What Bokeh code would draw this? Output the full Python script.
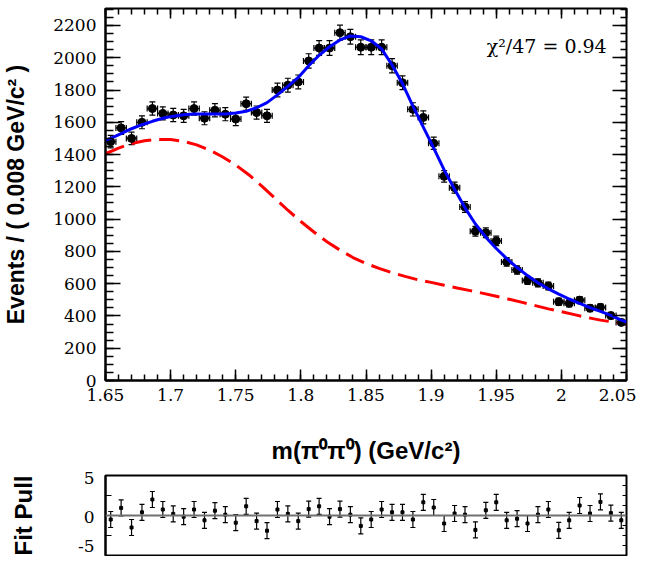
import numpy as np
from bokeh.plotting import figure
from bokeh.layouts import column
from bokeh.models import (ColumnDataSource, Whisker, TeeHead, LinearAxis, FixedTicker,
                          SingleIntervalTicker, CustomJSTickFormatter, Label, Span, Range1d)
from bokeh.embed import file_html
from bokeh.resources import INLINE

# ---------------- data ----------------
bin_low = 1.65
bin_width = 0.008
counts = [1480, 1565, 1500, 1600, 1685, 1655, 1645, 1640, 1685, 1625,
          1675, 1650, 1620, 1715, 1660, 1640, 1800, 1830, 1850, 1980,
          2060, 2060, 2155, 2130, 2065, 2065, 2065, 1950, 1845, 1680,
          1630, 1470, 1265, 1195, 1075, 925, 915, 865, 735, 685,
          620, 605, 585, 488, 478, 498, 448, 453, 402, 360]
pulls = [-0.5, 0.95, -1.5, 0.4, 2.0, 0.75, 0.2, -0.15, 0.75, -0.6,
         0.6, 0.1, -0.9, 1.15, -0.7, -1.9, 0.75, 0.2, -0.7, 0.8,
         1.15, -0.15, 0.8, 0.1, -1.3, -0.5, 0.75, 0.4, 0.4, -0.5,
         1.65, 1.0, -1.0, 0.25, 0.1, -1.8, 0.65, 1.65, -0.6, -0.4,
         -1.0, 0.1, 0.75, -1.85, -0.6, 1.25, 0.25, 1.7, 0.3, -0.6]

fit_x = [1.650, 1.654, 1.662, 1.670, 1.678, 1.686, 1.694, 1.702, 1.710, 1.718,
         1.726, 1.734, 1.742, 1.750, 1.758, 1.766, 1.774, 1.782, 1.790, 1.798,
         1.806, 1.814, 1.822, 1.830, 1.838, 1.846, 1.854, 1.862, 1.870, 1.878,
         1.886, 1.894, 1.902, 1.910, 1.918, 1.926, 1.934, 1.942, 1.950, 1.958,
         1.966, 1.974, 1.982, 1.990, 1.998, 2.006, 2.014, 2.022, 2.030, 2.038,
         2.046, 2.050]
fit_total = [1488, 1500, 1530, 1560, 1585, 1606, 1625, 1638, 1647, 1652,
             1652, 1652, 1652, 1657, 1668, 1690, 1722, 1770, 1822, 1878,
             1950, 2015, 2068, 2110, 2135, 2130, 2105, 2055, 1955, 1840,
             1700, 1570, 1440, 1305, 1185, 1070, 970, 888, 818, 756,
             700, 650, 606, 568, 535, 505, 478, 452, 428, 404,
             374, 362]

bkg_x = [1.650, 1.660, 1.670, 1.680, 1.690, 1.700, 1.710, 1.720, 1.730, 1.740,
         1.750, 1.760, 1.770, 1.780, 1.790, 1.800, 1.810, 1.820, 1.830, 1.840,
         1.850, 1.860, 1.870, 1.880, 1.890, 1.900, 1.910, 1.920, 1.930, 1.940,
         1.950, 1.960, 1.970, 1.980, 1.990, 2.000, 2.010, 2.020, 2.030, 2.040,
         2.050]
bkg_values = [1405, 1440, 1468, 1485, 1494, 1493, 1482, 1460, 1428, 1385,
              1335, 1275, 1205, 1130, 1055, 985, 920, 860, 808, 762,
              725, 695, 668, 645, 624, 608, 590, 573, 557, 540,
              522, 503, 484, 464, 444, 426, 408, 390, 374, 362,
              350]

x_ticks = [1.65, 1.7, 1.75, 1.8, 1.85, 1.9, 1.95, 2.0, 2.05]
pull_tick_labels = ["5", "0", "-5"]
pull_label_pos = [4.75, -0.15, -3.8]
pull_tick_marks = [-5, -2.5, 0, 2.5, 5]
chi2_text = "χ²/47 = 0.94"
y_title = "Events / ( 0.008 GeV/c² )"
x_title = "m(π⁰π⁰) (GeV/c²)"
pull_title = "Fit Pull"

# ---------------- derived ----------------
counts_a = np.array(counts, dtype=float)
centers = bin_low + bin_width * (np.arange(len(counts)) + 0.5)
errs = np.sqrt(counts_a)
pulls_a = np.array(pulls, dtype=float)

SERIF = "DejaVu Serif"
SANS = "Liberation Sans"

x_minor = [round(1.65 + 0.01 * k, 3) for k in range(41)]
blank_fmt = CustomJSTickFormatter(code="return '';")

def style_frame(p):
    p.grid.visible = False
    p.outline_line_color = "black"
    p.outline_line_width = 2
    p.background_fill_color = "white"
    p.border_fill_color = "white"

# ---------------- main plot ----------------
p1 = figure(width=636, height=466, x_range=Range1d(1.65, 2.05), y_range=Range1d(0, 2305),
            output_backend="svg", toolbar_location=None,
            min_border_left=100, min_border_right=10, min_border_top=8, min_border_bottom=85)
style_frame(p1)

xa = p1.xaxis[0]
xa.ticker = FixedTicker(ticks=x_ticks, minor_ticks=x_minor)
xa.formatter = CustomJSTickFormatter(code="return String(parseFloat(tick.toFixed(3)));")
xa.major_tick_in = 11
xa.major_tick_out = 0
xa.minor_tick_in = 6
xa.minor_tick_out = 0
xa.major_tick_line_width = 1.5
xa.minor_tick_line_width = 1.5
xa.axis_line_width = 2
xa.major_label_standoff = 8
xa.major_label_text_font = SERIF
xa.major_label_text_font_size = "17px"
xa.major_label_text_color = "black"
xa.axis_label = x_title
xa.axis_label_text_font = SANS
xa.axis_label_text_font_style = "bold"
xa.axis_label_text_font_size = "24px"
xa.axis_label_text_color = "black"
xa.axis_label_standoff = 33

ya = p1.yaxis[0]
ya.ticker = SingleIntervalTicker(interval=200, num_minor_ticks=4)
ya.major_tick_in = 15
ya.major_tick_out = 0
ya.minor_tick_in = 8
ya.minor_tick_out = 0
ya.major_tick_line_width = 1.5
ya.minor_tick_line_width = 1.5
ya.axis_line_width = 2
ya.major_label_standoff = 9
ya.major_label_text_font = SERIF
ya.major_label_text_font_size = "17px"
ya.major_label_text_color = "black"
ya.axis_label = y_title
ya.axis_label_text_font = SANS
ya.axis_label_text_font_style = "bold"
ya.axis_label_text_font_size = "23px"
ya.axis_label_text_color = "black"
ya.axis_label_standoff = 21

top_axis = LinearAxis(ticker=FixedTicker(ticks=x_ticks, minor_ticks=x_minor),
                      formatter=blank_fmt, major_label_standoff=0,
                      major_tick_in=10, major_tick_out=0, minor_tick_in=6, minor_tick_out=0,
                      major_tick_line_width=1.5, minor_tick_line_width=1.5,
                      axis_line_color=None)
p1.add_layout(top_axis, "above")
right_axis = LinearAxis(ticker=SingleIntervalTicker(interval=200, num_minor_ticks=4),
                        formatter=blank_fmt, major_label_standoff=0,
                        major_tick_in=14, major_tick_out=0, minor_tick_in=6, minor_tick_out=0,
                        major_tick_line_width=1.5, minor_tick_line_width=1.5,
                        axis_line_color=None)
p1.add_layout(right_axis, "right")

src = ColumnDataSource(dict(x=centers, y=counts_a, lo=counts_a - errs, hi=counts_a + errs,
                            xlo=centers - bin_width / 2, xhi=centers + bin_width / 2))

p1.line(bkg_x, bkg_values, line_color="#ff0000", line_width=3, line_dash="20 8")
p1.scatter("x", "y", source=src, size=8, color="black")
p1.line(fit_x, fit_total, line_color="#0000ff", line_width=3)

def tee(size=6):
    return TeeHead(size=size, line_color="black", line_width=1.2)

p1.add_layout(Whisker(source=src, base="x", lower="lo", upper="hi", dimension="height",
                      line_color="black", line_width=1.2, upper_head=tee(), lower_head=tee()))
p1.add_layout(Whisker(source=src, base="y", lower="xlo", upper="xhi", dimension="width",
                      line_color="black", line_width=1.2, upper_head=tee(), lower_head=tee()))

p1.add_layout(Label(x=2.0348, y=2075, text=chi2_text, text_align="right",
                    text_baseline="alphabetic", text_font=SERIF, text_font_size="19px",
                    text_color="black"))

# ---------------- pull plot ----------------
p2 = figure(width=636, height=90, x_range=p1.x_range, y_range=Range1d(-5, 5),
            output_backend="svg", toolbar_location=None,
            min_border_left=100, min_border_right=10, min_border_top=9, min_border_bottom=1)
style_frame(p2)
p2.xaxis.visible = False

pa = p2.yaxis[0]
pa.ticker = FixedTicker(ticks=pull_label_pos, minor_ticks=pull_tick_marks)
pa.major_label_overrides = {pos: lab for pos, lab in zip(pull_label_pos, pull_tick_labels)}
pa.major_tick_in = 0
pa.major_tick_out = 0
pa.minor_tick_in = 6
pa.minor_tick_out = 0
pa.minor_tick_line_width = 1.2
pa.axis_line_width = 2
pa.major_label_standoff = 11
pa.major_label_text_font = SERIF
pa.major_label_text_font_size = "17px"
pa.major_label_text_color = "black"
pa.axis_label = pull_title
pa.axis_label_text_font = SANS
pa.axis_label_text_font_style = "bold"
pa.axis_label_text_font_size = "24px"
pa.axis_label_text_color = "black"
pa.axis_label_standoff = 38

p2_right = LinearAxis(ticker=FixedTicker(ticks=[-5, 0, 5],
                                         minor_ticks=[-3.75, -2.5, -1.25, 1.25, 2.5, 3.75]),
                      formatter=blank_fmt, major_label_standoff=0,
                      major_tick_in=6, major_tick_out=0, minor_tick_in=4, minor_tick_out=0,
                      major_tick_line_width=1.2, minor_tick_line_width=1.2,
                      axis_line_color=None)
p2.add_layout(p2_right, "right")

p2.add_layout(Span(location=0, dimension="width", line_color="#707070", line_width=2))

psrc = ColumnDataSource(dict(x=centers, y=pulls_a, lo=pulls_a - 1, hi=pulls_a + 1))
p2.scatter("x", "y", source=psrc, size=3, marker="square", color="black")
p2.add_layout(Whisker(source=psrc, base="x", lower="lo", upper="hi", dimension="height",
                      line_color="black", line_width=1.2,
                      upper_head=tee(5), lower_head=tee(5)))

layout = column(p1, p2, spacing=0)
open("out.html", "w").write(file_html(layout, INLINE, "fit"))
